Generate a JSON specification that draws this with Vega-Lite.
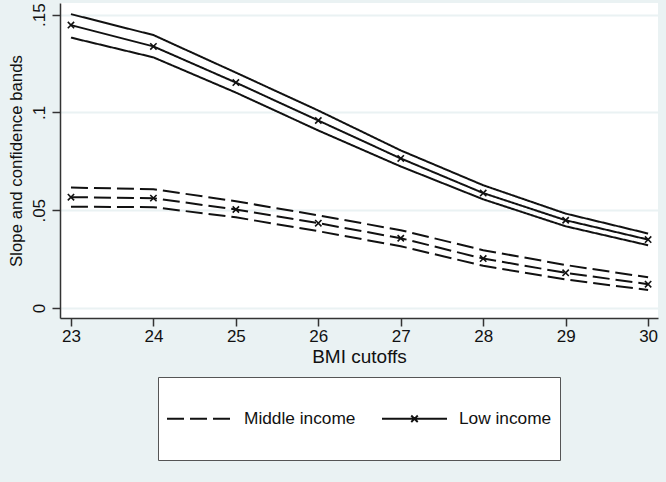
{
  "$schema": "https://vega.github.io/schema/vega-lite/v6.json",
  "autosize": {"type": "none"},
  "width": 598,
  "height": 315,
  "padding": {"left": 60, "top": 3, "right": 8, "bottom": 164},
  "background": "#EAF2F3",
  "config": {
    "view": {"fill": "white", "stroke": null},
    "font": "Liberation Sans",
    "axis": {
      "domainColor": "#333333",
      "domainWidth": 1.5,
      "tickColor": "#333333",
      "tickWidth": 1.5,
      "tickSize": 8,
      "gridColor": "#EAF2F3",
      "gridWidth": 2,
      "labelColor": "#111111",
      "titleColor": "#111111",
      "labelFont": "Liberation Sans",
      "titleFont": "Liberation Sans",
      "titleFontWeight": "normal"
    }
  },
  "data": {
    "values": [
      {"bmi": 23, "value": 0.1503, "group": "Low income", "band": "upper"},
      {"bmi": 24, "value": 0.1396, "group": "Low income", "band": "upper"},
      {"bmi": 25, "value": 0.1204, "group": "Low income", "band": "upper"},
      {"bmi": 26, "value": 0.1010, "group": "Low income", "band": "upper"},
      {"bmi": 27, "value": 0.0806, "group": "Low income", "band": "upper"},
      {"bmi": 28, "value": 0.0628, "group": "Low income", "band": "upper"},
      {"bmi": 29, "value": 0.0483, "group": "Low income", "band": "upper"},
      {"bmi": 30, "value": 0.0381, "group": "Low income", "band": "upper"},
      {"bmi": 23, "value": 0.1447, "group": "Low income", "band": "mid"},
      {"bmi": 24, "value": 0.1338, "group": "Low income", "band": "mid"},
      {"bmi": 25, "value": 0.1153, "group": "Low income", "band": "mid"},
      {"bmi": 26, "value": 0.0959, "group": "Low income", "band": "mid"},
      {"bmi": 27, "value": 0.0765, "group": "Low income", "band": "mid"},
      {"bmi": 28, "value": 0.0588, "group": "Low income", "band": "mid"},
      {"bmi": 29, "value": 0.0449, "group": "Low income", "band": "mid"},
      {"bmi": 30, "value": 0.0350, "group": "Low income", "band": "mid"},
      {"bmi": 23, "value": 0.1383, "group": "Low income", "band": "lower"},
      {"bmi": 24, "value": 0.1282, "group": "Low income", "band": "lower"},
      {"bmi": 25, "value": 0.1102, "group": "Low income", "band": "lower"},
      {"bmi": 26, "value": 0.0908, "group": "Low income", "band": "lower"},
      {"bmi": 27, "value": 0.0724, "group": "Low income", "band": "lower"},
      {"bmi": 28, "value": 0.0556, "group": "Low income", "band": "lower"},
      {"bmi": 29, "value": 0.0418, "group": "Low income", "band": "lower"},
      {"bmi": 30, "value": 0.0321, "group": "Low income", "band": "lower"},
      {"bmi": 23, "value": 0.0616, "group": "Middle income", "band": "upper"},
      {"bmi": 24, "value": 0.0608, "group": "Middle income", "band": "upper"},
      {"bmi": 25, "value": 0.0546, "group": "Middle income", "band": "upper"},
      {"bmi": 26, "value": 0.0474, "group": "Middle income", "band": "upper"},
      {"bmi": 27, "value": 0.0398, "group": "Middle income", "band": "upper"},
      {"bmi": 28, "value": 0.0296, "group": "Middle income", "band": "upper"},
      {"bmi": 29, "value": 0.0220, "group": "Middle income", "band": "upper"},
      {"bmi": 30, "value": 0.0157, "group": "Middle income", "band": "upper"},
      {"bmi": 23, "value": 0.0567, "group": "Middle income", "band": "mid"},
      {"bmi": 24, "value": 0.0562, "group": "Middle income", "band": "mid"},
      {"bmi": 25, "value": 0.0504, "group": "Middle income", "band": "mid"},
      {"bmi": 26, "value": 0.0434, "group": "Middle income", "band": "mid"},
      {"bmi": 27, "value": 0.0357, "group": "Middle income", "band": "mid"},
      {"bmi": 28, "value": 0.0253, "group": "Middle income", "band": "mid"},
      {"bmi": 29, "value": 0.0180, "group": "Middle income", "band": "mid"},
      {"bmi": 30, "value": 0.0122, "group": "Middle income", "band": "mid"},
      {"bmi": 23, "value": 0.0518, "group": "Middle income", "band": "lower"},
      {"bmi": 24, "value": 0.0516, "group": "Middle income", "band": "lower"},
      {"bmi": 25, "value": 0.0464, "group": "Middle income", "band": "lower"},
      {"bmi": 26, "value": 0.0393, "group": "Middle income", "band": "lower"},
      {"bmi": 27, "value": 0.0316, "group": "Middle income", "band": "lower"},
      {"bmi": 28, "value": 0.0216, "group": "Middle income", "band": "lower"},
      {"bmi": 29, "value": 0.0146, "group": "Middle income", "band": "lower"},
      {"bmi": 30, "value": 0.0092, "group": "Middle income", "band": "lower"}
    ]
  },
  "encoding": {
    "x": {
      "field": "bmi",
      "type": "quantitative",
      "scale": {"domain": [22.867, 30.12], "nice": false, "zero": false},
      "axis": {
        "title": "BMI cutoffs",
        "values": [23, 24, 25, 26, 27, 28, 29, 30],
        "grid": false,
        "labelFontSize": 17,
        "labelPadding": 2,
        "titleFontSize": 19,
        "titlePadding": 3
      }
    },
    "y": {
      "field": "value",
      "type": "quantitative",
      "scale": {"domain": [-0.0051, 0.156], "nice": false, "zero": false},
      "axis": {
        "title": "Slope and confidence bands",
        "values": [0, 0.05, 0.1, 0.15],
        "labelExpr": "datum.value == 0 ? '0' : replace(format(datum.value, '.2~f'), '0.', '.')",
        "grid": true,
        "labelAngle": 270,
        "labelAlign": "center",
        "labelBaseline": "bottom",
        "labelFontSize": 17,
        "labelPadding": 4,
        "titleFontSize": 16.8,
        "titlePadding": 5
      }
    }
  },
  "layer": [
    {
      "mark": {"type": "line", "color": "#111111", "strokeWidth": 2},
      "encoding": {
        "strokeDash": {
          "field": "group",
          "type": "nominal",
          "scale": {"domain": ["Middle income", "Low income"], "range": [[17, 6], [1, 0]]},
          "legend": {
            "title": null,
            "orient": "none",
            "legendX": 98,
            "legendY": 374,
            "direction": "horizontal",
            "columns": 2,
            "fillColor": "white",
            "strokeColor": "#555555",
            "padding": 8,
            "symbolType": "stroke",
            "symbolSize": 4225,
            "symbolStrokeWidth": 2,
            "symbolStrokeColor": "#111111",
            "labelFontSize": 17.3,
            "labelColor": "#111111",
            "labelFont": "Liberation Sans",
            "labelOffset": 11,
            "columnPadding": 22,
            "labelLimit": 300,
            "encode": {
              "symbols": {
                "update": {
                  "shape": {"signal": "datum.value == 'Low income' ? 'M-1,0L1,0M-0.1,-0.1L0.1,0.1M-0.1,0.1L0.1,-0.1M0,-0.89M0,0.89' : 'M-1,0L1,0M0,-0.89M0,0.89'"}
                }
              }
            }
          }
        },
        "detail": {"field": "band", "type": "nominal"},
        "order": {"field": "bmi", "type": "quantitative"}
      }
    },
    {
      "transform": [{"filter": "datum.band == 'mid'"}],
      "mark": {
        "type": "point",
        "shape": "M-1,-1L1,1M-1,1L1,-1",
        "filled": false,
        "stroke": "#111111",
        "strokeWidth": 1.6,
        "size": 40,
        "opacity": 1
      }
    }
  ]
}
